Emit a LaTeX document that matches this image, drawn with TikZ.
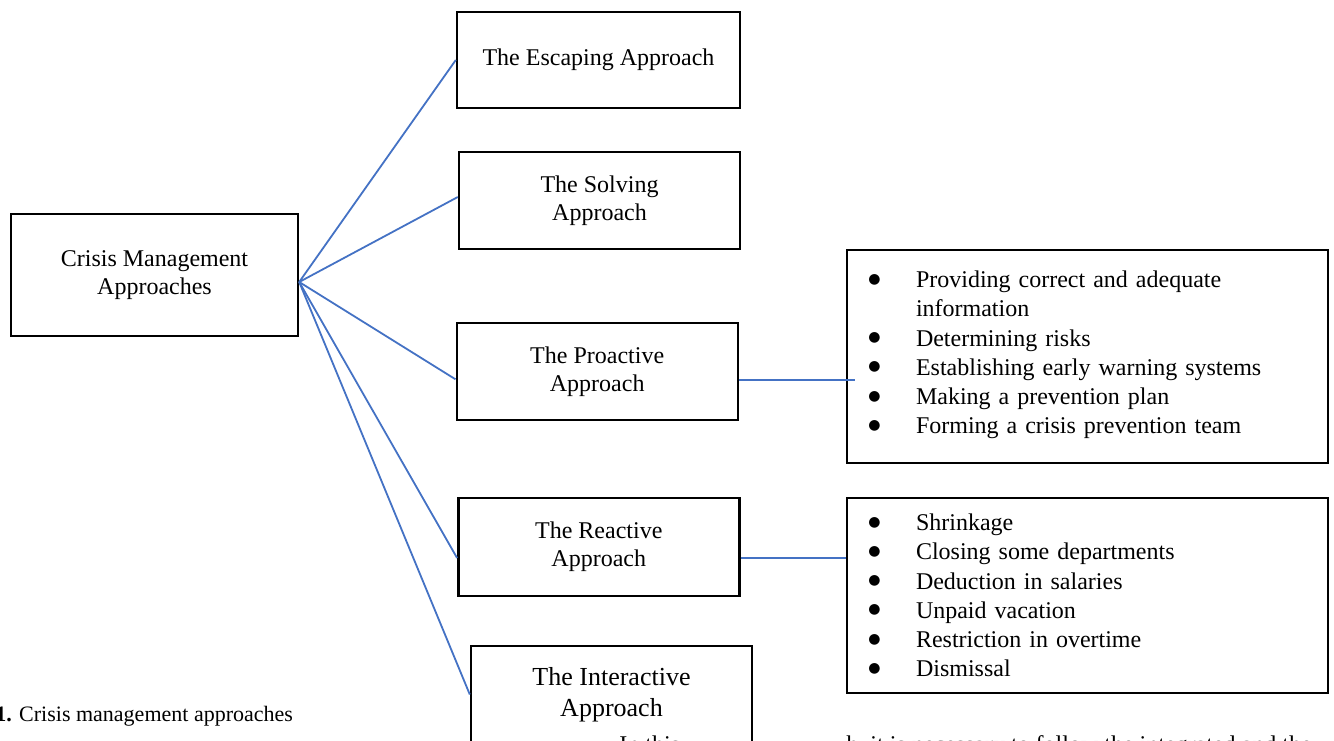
\documentclass[tikz,border=0pt]{standalone}
\usepackage{fontspec}
\setmainfont{Liberation Serif}
\newfontfamily\simbolo{DejaVu Sans}
\usepackage{tikz}

\definecolor{azul}{RGB}{68,114,196}
\newcommand{\vin}{\makebox[22.5pt][l]{\hspace{-1.3pt}\raisebox{2.2pt}{\simbolo\fontsize{7}{9}\selectfont ●}}}
\newcommand{\sinvin}{\hspace*{22.5pt}}

\begin{document}
\begin{tikzpicture}[x=0.5pt,y=-0.5pt,
    caja/.style={draw, line width=1.2pt, align=center, inner sep=0pt,
        minimum width=140.5pt, minimum height=48.5pt,
        font=\fontsize{12}{14}\selectfont},
    lista/.style={draw, line width=1.2pt, align=left, inner xsep=12pt,
        inner ysep=0pt, text width=216.5pt, minimum width=240.5pt,
        font=\fontsize{12}{14.6}\selectfont},
    enlace/.style={azul, line width=0.9pt}]
    \useasboundingbox (0,0) rectangle (1334,740);
    \clip (0,0) rectangle (1334,740);

    % -----------------------------------------------------
    % 1) Caja central
    % -----------------------------------------------------
    \node[caja, minimum width=143.5pt, minimum height=61pt] (crisis) at (154.5,275)
        {Crisis Management\\Approaches};

    % -----------------------------------------------------
    % 2) Los cinco enfoques
    % -----------------------------------------------------
    \node[caja, minimum width=141.5pt, minimum height=48pt] (escape) at (598.5,60)
        {The Escaping Approach};
    \node[caja] (solve) at (599.5,200.5) {The Solving\\Approach};
    \node[caja] (proact) at (597.2,371.3) {The Proactive\\Approach};
    \node[caja, minimum height=49pt] (react) at (598.8,547) {The Reactive\\Approach};
    \node[caja, font=\fontsize{13}{15.5}\selectfont] (interact) at (611.5,694.5)
        {The Interactive\\Approach};

    % -----------------------------------------------------
    % 3) Listas de medidas
    % -----------------------------------------------------
    \node[lista, minimum height=106.5pt] (prolist) at (1087.5,356.5)
        {\vin Providing correct and adequate\\
         \sinvin information\\
         \vin Determining risks\\
         \vin Establishing early warning systems\\
         \vin Making a prevention plan\\
         \vin Forming a crisis prevention team\\[-10.5pt]\mbox{}};
    \node[lista, minimum height=97.5pt] (realist) at (1087.5,595.5)
        {\vin Shrinkage\\
         \vin Closing some departments\\
         \vin Deduction in salaries\\
         \vin Unpaid vacation\\
         \vin Restriction in overtime\\
         \vin Dismissal};

    % -----------------------------------------------------
    % 4) Lineas desde la caja central
    % -----------------------------------------------------
    \coordinate (hub) at ([yshift=-3.5pt]crisis.east);
    \draw[enlace] (hub) -- (escape.west);
    \draw[enlace] (hub) -- ([yshift=1.75pt]solve.west);
    \draw[enlace] (hub) -- ([yshift=-4pt]proact.west);
    \draw[enlace] (hub) -- ([yshift=-5.5pt]react.west);
    \draw[enlace] (hub) -- (interact.west);

    % Lineas hacia las listas
    \draw[enlace] ([yshift=-4.5pt]proact.east)
        -- ([yshift=-4.5pt, xshift=4.5pt]proact.east -| prolist.west);
    \draw[enlace] ([yshift=-5.5pt]react.east)
        -- ([yshift=-5.5pt]react.east -| realist.west);

    % -----------------------------------------------------
    % 5) Pie y texto cortado abajo
    % -----------------------------------------------------
    \node[anchor=west, inner sep=0pt, font=\fontsize{11}{13}\selectfont] (pie)
        at (-5,716) {\textbf{1.} Crisis management approaches};
    \node[anchor=base west, inner sep=0pt, font=\fontsize{12}{14}\selectfont] (texto1)
        at (619,752) {In this};
    \node[anchor=base west, inner sep=0pt, font=\fontsize{12}{14}\selectfont] (texto2)
        at (846,752) {h, it is necessary to follow the integrated and the};

\end{tikzpicture}
\end{document}
